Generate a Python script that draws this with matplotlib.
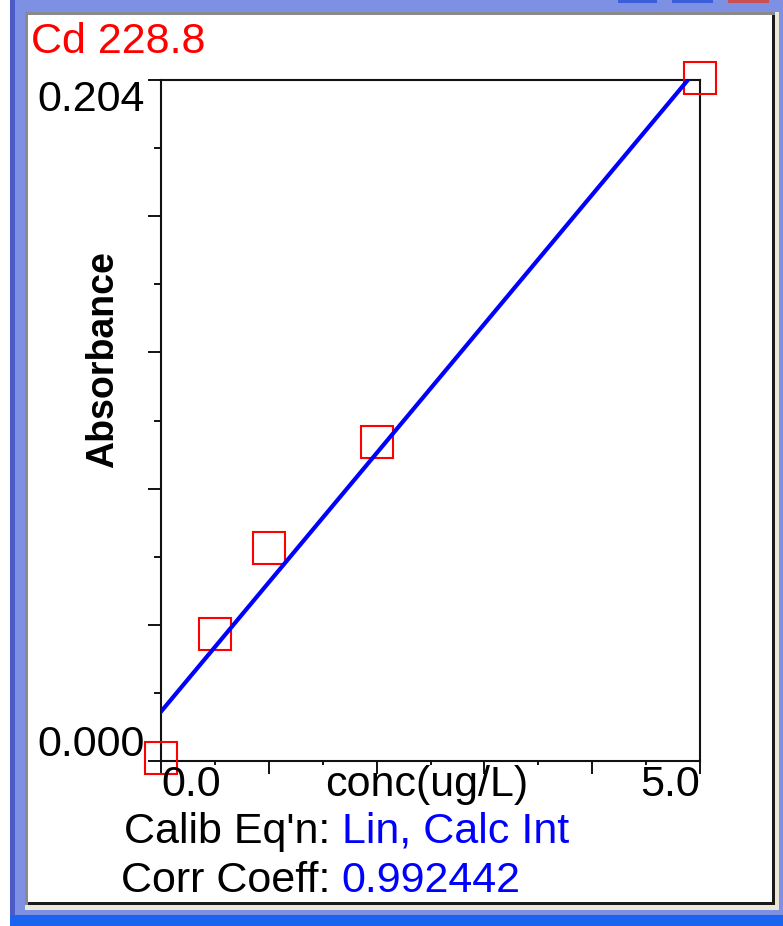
import numpy as np
import matplotlib
matplotlib.use("Agg")
import matplotlib.pyplot as plt
from matplotlib.patches import Rectangle
from matplotlib.ticker import MultipleLocator

plt.rcParams['font.family'] = ['Liberation Sans', 'DejaVu Sans']

# calibration standards
conc = [0.0, 0.5, 1.0, 2.0, 5.0]
absorbance = [0.0009, 0.0380, 0.0639, 0.0957, 0.2045]
element = "Cd 228.8"
calib_eqn = "Lin, Calc Int"
corr_coeff = "0.992442"
y_max = 0.204
x_max = 5.0

W, H = 783, 926
fig = plt.figure(figsize=(W / 100, H / 100), dpi=100, facecolor="white")


def box(x0, y0, x1, y1, color):
    # pixel box (top-left origin) -> figure fraction rectangle
    r = Rectangle((x0 / W, 1 - y1 / H), (x1 - x0) / W, (y1 - y0) / H,
                  transform=fig.transFigure, facecolor=color,
                  edgecolor="none", zorder=-5)
    fig.add_artist(r)


# window frame
box(10, 0, 783, 926, "#7d90e4")
box(10, 0, 15, 926, "#4b5cc9")
box(618, 0, 657, 3, "#3a5fd8")
box(672, 0, 713, 3, "#3a5fd8")
box(728, 0, 769, 3, "#c85050")
box(25, 12, 779, 910, "#ece9d8")
box(25, 12, 775, 905, "#8a8a8a")
box(28, 15, 775, 905, "#1a1a1a")
box(28, 15, 772, 902, "white")
box(10, 915, 783, 926, "#1a64f0")

ax = fig.add_axes([161 / W, 1 - 761 / H, 539 / W, 681 / H])
ax.set_xlim(0, x_max)
ax.set_ylim(0, y_max)
for s in ax.spines.values():
    s.set_linewidth(1.5)
    s.set_color("#111111")

ax.xaxis.set_major_locator(MultipleLocator(1.0))
ax.xaxis.set_minor_locator(MultipleLocator(0.5))
ax.yaxis.set_major_locator(MultipleLocator(y_max / 5))
ax.yaxis.set_minor_locator(MultipleLocator(y_max / 10))
ax.tick_params(which="major", direction="out", length=9.5, width=1.4,
               color="#111111", labelbottom=False, labelleft=False)
ax.tick_params(axis="y", which="minor", direction="out", length=5, width=1.4,
               color="#111111")
ax.tick_params(axis="x", which="minor", direction="out", length=3, width=1.4,
               color="#111111")

# standards and fitted line
ax.plot(conc, absorbance, linestyle="none", marker="s", markersize=23,
        markerfacecolor="none", markeredgecolor="#ff0000",
        markeredgewidth=1.5, clip_on=False, zorder=3)
slope, intercept = np.polyfit(conc, absorbance, 1)
xs = np.array([0.0, x_max])
ax.plot(xs, slope * xs + intercept, color="#0000ff", linewidth=3, zorder=4)

fs = 31
xt = ax.get_xaxis_transform()
yt = ax.get_yaxis_transform()
ax.text(0.0, -0.035, "0.0", transform=xt, ha="left", va="center", fontsize=fs)
ax.text(x_max, -0.035, "5.0", transform=xt, ha="right", va="center", fontsize=fs)
ax.text(0.4935, -0.035, "conc(ug/L)", transform=ax.transAxes, ha="center",
        va="center", fontsize=fs)
ax.text(-0.03, y_max - 0.006, f"{y_max:.3f}", transform=yt, ha="right",
        va="center", fontsize=fs)
ax.text(-0.03, 0.0048, "0.000", transform=yt, ha="right", va="center",
        fontsize=fs)
ax.text(-0.1076, 0.589, "Absorbance", transform=ax.transAxes, rotation=90,
        ha="center", va="center", fontsize=27, fontweight="bold")

fig.text(31 / W, 1 - 42 / H, element, color="#ff0000", fontsize=fs,
         ha="left", va="center")
fig.text(330 / W, 1 - 832 / H, "Calib Eq'n:", fontsize=fs, ha="right", va="center")
fig.text(342 / W, 1 - 832 / H, calib_eqn, color="#0000ff", fontsize=fs,
         ha="left", va="center")
fig.text(330 / W, 1 - 881 / H, "Corr Coeff:", fontsize=fs, ha="right", va="center")
fig.text(341 / W, 1 - 881 / H, corr_coeff, color="#0000ff", fontsize=fs,
         ha="left", va="center")

fig.savefig("out.png", dpi=100)
